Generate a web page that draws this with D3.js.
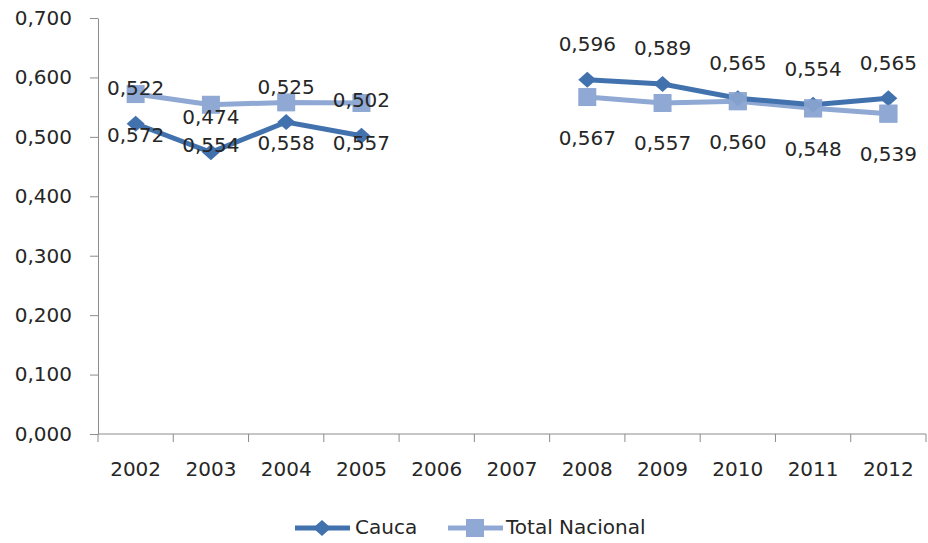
<!DOCTYPE html>
<html lang="es">
<head>
<meta charset="UTF-8">
<title>Cauca vs Total Nacional</title>
<script src="https://d3js.org/d3.v7.min.js"></script>
<style>
    body { margin: 0; background: #fff; }
    svg text { font-family: "DejaVu Sans", sans-serif; fill: #262626; }
</style>
</head>
<body>
<div id="chart"></div>
<script>
    // data
    var years = ["2002","2003","2004","2005","2006","2007","2008","2009","2010","2011","2012"];
    var cauca = [0.522, 0.474, 0.525, 0.502, null, null, 0.596, 0.589, 0.565, 0.554, 0.565];
    var totalNacional = [0.572, 0.554, 0.558, 0.557, null, null, 0.567, 0.557, 0.560, 0.548, 0.539];
    var yTicks = [0, 0.1, 0.2, 0.3, 0.4, 0.5, 0.6, 0.7];
    var seriesNames = ["Cauca", "Total Nacional"];

    var W = 928, H = 543;
    var m = {left: 98, right: 926, top: 18, bottom: 434};
    var darkBlue = "#4272ae", lightBlue = "#8fa9d4";
    var fs = "20px";

    var svg = d3.select("#chart").append("svg")
        .attr("width", W).attr("height", H);

    var x = d3.scaleBand().domain(years).range([m.left, m.right]);
    var y = d3.scaleLinear().domain([0, 0.7]).range([m.bottom, m.top]);
    var fmt = function(v) { return d3.format(".3f")(v).replace(".", ","); };

    // y axis
    var yAxis = svg.append("g")
        .attr("transform", "translate(" + m.left + ",0)")
        .call(d3.axisLeft(y).tickValues(yTicks).tickFormat(fmt).tickSize(8).tickPadding(18).tickSizeOuter(0));
    yAxis.selectAll("path, line").attr("stroke", "#8c8c8c");
    yAxis.selectAll("text").style("font-size", fs).attr("fill", "#262626");

    // x axis, ticks between categories
    var xg = svg.append("g").attr("transform", "translate(0," + m.bottom + ")");
    xg.append("line").attr("x1", m.left).attr("x2", m.right).attr("stroke", "#8c8c8c");
    var edges = years.map(function(d) { return x(d); }).concat([m.right]);
    xg.selectAll(".tk").data(edges).enter().append("line")
        .attr("x1", function(d) { return d; }).attr("x2", function(d) { return d; })
        .attr("y1", 0).attr("y2", 8).attr("stroke", "#8c8c8c");
    xg.selectAll(".lbl").data(years).enter().append("text")
        .attr("x", function(d) { return x(d) + x.bandwidth() / 2; })
        .attr("y", 36)
        .attr("text-anchor", "middle").attr("dominant-baseline", "middle")
        .style("font-size", fs)
        .text(function(d) { return d; });

    var cx = function(i) { return x(years[i]) + x.bandwidth() / 2; };
    var line = d3.line()
        .defined(function(d) { return d != null; })
        .x(function(d, i) { return cx(i); })
        .y(function(d) { return y(d); });
    var diamond = "M0,-8L9,0L0,8L-9,0Z";

    // Total Nacional (lighter, underneath)
    svg.append("path").datum(totalNacional)
        .attr("d", line).attr("fill", "none")
        .attr("stroke", lightBlue).attr("stroke-width", 5);
    totalNacional.forEach(function(v, i) {
        if (v == null) return;
        svg.append("rect")
            .attr("x", cx(i) - 9).attr("y", y(v) - 9)
            .attr("width", 18).attr("height", 18)
            .attr("fill", lightBlue);
    });

    // Cauca
    svg.append("path").datum(cauca)
        .attr("d", line).attr("fill", "none")
        .attr("stroke", darkBlue).attr("stroke-width", 5);
    cauca.forEach(function(v, i) {
        if (v == null) return;
        svg.append("path").attr("d", diamond)
            .attr("transform", "translate(" + cx(i) + "," + y(v) + ")")
            .attr("fill", darkBlue);
    });

    // Total squares sit over the Cauca line where the two meet (2010-2012)
    totalNacional.forEach(function(v, i) {
        if (v == null || i < 8) return;
        svg.append("rect")
            .attr("x", cx(i) - 9).attr("y", y(v) - 9)
            .attr("width", 18).attr("height", 18)
            .attr("fill", lightBlue).attr("opacity", 0.85);
    });

    // data labels
    cauca.forEach(function(v, i) {
        if (v == null) return;
        svg.append("text").attr("x", cx(i)).attr("y", y(v) - 34)
            .attr("text-anchor", "middle").attr("dominant-baseline", "middle")
            .style("font-size", fs).text(fmt(v));
    });
    totalNacional.forEach(function(v, i) {
        if (v == null) return;
        svg.append("text").attr("x", cx(i)).attr("y", y(v) + 42)
            .attr("text-anchor", "middle").attr("dominant-baseline", "middle")
            .style("font-size", fs).text(fmt(v));
    });

    // legend
    var lg = svg.append("g").attr("transform", "translate(0,528)");
    lg.append("line").attr("x1", 295).attr("x2", 350).attr("stroke", darkBlue).attr("stroke-width", 5);
    lg.append("path").attr("d", diamond).attr("transform", "translate(322,0)").attr("fill", darkBlue);
    lg.append("text").attr("x", 355).attr("dominant-baseline", "middle")
        .style("font-size", fs).text(seriesNames[0]);
    lg.append("line").attr("x1", 448).attr("x2", 503).attr("stroke", lightBlue).attr("stroke-width", 5);
    lg.append("rect").attr("x", 466).attr("y", -9).attr("width", 18).attr("height", 18).attr("fill", lightBlue);
    lg.append("text").attr("x", 506).attr("dominant-baseline", "middle")
        .style("font-size", fs).text(seriesNames[1]);
</script>
</body>
</html>
